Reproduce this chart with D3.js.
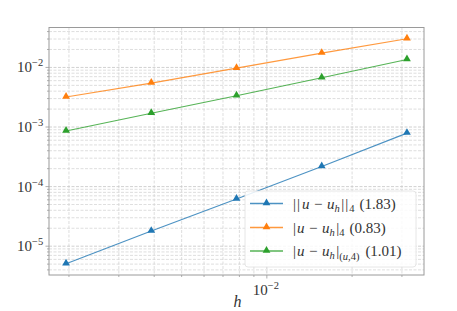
<!DOCTYPE html>
<html>
<head>
<meta charset="utf-8">
<script src="https://cdn.jsdelivr.net/npm/d3@7"></script>
<style>
  body { margin: 0; background: #fff; }
  text { font-family: "Liberation Serif", "DejaVu Serif", serif; fill: #333; }
</style>
</head>
<body>
<div id="chart"></div>
<script>
// mesh sizes h = 1/512 ... 1/32
var hValues = [1/512, 1/256, 1/128, 1/64, 1/32];
var errL4 = [5.07e-6, 1.79e-5, 6.2e-5, 2.17e-4, 7.9e-4];
var semiL4 = [3.18e-3, 5.46e-3, 9.73e-3, 1.74e-2, 3.03e-2];
var semiU4 = [8.57e-4, 1.70e-3, 3.35e-3, 6.71e-3, 1.36e-2];
var rates = ["1.83", "0.83", "1.01"];
var colors = ["#1f77b4", "#ff7f0e", "#2ca02c"];
var yTickExp = [-2, -3, -4, -5];
var xTickExp = [-2];

var width = 457, height = 311,
  margin = {left: 49, right: 33, top: 27.5, bottom: 36},
  w = width - margin.left - margin.right,
  h = height - margin.top - margin.bottom;

var svg = d3.select("#chart").append("svg")
  .attr("width", width).attr("height", height);
var chart = svg.append("g")
  .attr("transform", "translate(" + margin.left + "," + margin.top + ")");

var series = [errL4, semiL4, semiU4];

// matplotlib-like 5% padding in log space
function padLog(ext) {
  var a = Math.log10(ext[0]), b = Math.log10(ext[1]), p = (b - a) * 0.05;
  return [Math.pow(10, a - p), Math.pow(10, b + p)];
}
var x = d3.scaleLog().domain(padLog(d3.extent(hValues))).range([0, w]);
var allY = d3.merge(series);
var y = d3.scaleLog().domain(padLog(d3.extent(allY))).range([h, 0]);

function logTicks(scale) {
  var d = scale.domain(), out = [];
  for (var e = Math.floor(Math.log10(d[0])); e <= Math.ceil(Math.log10(d[1])); e++) {
    for (var m = 1; m <= 9; m++) {
      var v = m * Math.pow(10, e);
      if (v >= d[0] && v <= d[1]) out.push({v: v, major: m === 1});
    }
  }
  return out;
}
var xt = logTicks(x), yt = logTicks(y);

// grid
chart.selectAll(".gx").data(xt).enter().append("line")
  .attr("x1", function (d) { return x(d.v); }).attr("x2", function (d) { return x(d.v); })
  .attr("y1", 0).attr("y2", h)
  .attr("stroke", function (d) { return d.major ? "#c4c4c4" : "#d6d6d6"; })
  .attr("stroke-width", 0.8).attr("stroke-dasharray", "3,1.5");
chart.selectAll(".gy").data(yt).enter().append("line")
  .attr("y1", function (d) { return y(d.v); }).attr("y2", function (d) { return y(d.v); })
  .attr("x1", 0).attr("x2", w)
  .attr("stroke", function (d) { return d.major ? "#c4c4c4" : "#d6d6d6"; })
  .attr("stroke-width", 0.8).attr("stroke-dasharray", "3,1.5");

// frame
chart.append("rect").attr("width", w).attr("height", h)
  .attr("fill", "none").attr("stroke", "#9a9a9a").attr("stroke-width", 1);

// ticks
chart.selectAll(".tx").data(xt).enter().append("line")
  .attr("x1", function (d) { return x(d.v); }).attr("x2", function (d) { return x(d.v); })
  .attr("y1", h).attr("y2", function (d) { return h + (d.major ? 3.5 : 2); })
  .attr("stroke", "#9a9a9a").attr("stroke-width", 0.8);
chart.selectAll(".ty").data(yt).enter().append("line")
  .attr("y1", function (d) { return y(d.v); }).attr("y2", function (d) { return y(d.v); })
  .attr("x1", 0).attr("x2", function (d) { return d.major ? -3.5 : -2; })
  .attr("stroke", "#9a9a9a").attr("stroke-width", 0.8);

// tick labels
function powLabel(sel, e) {
  sel.append("tspan").text("10");
  sel.append("tspan").attr("dy", -6).attr("font-size", 10.5).text("\u2212" + Math.abs(e));
}
yTickExp.forEach(function (e) {
  var t = chart.append("text").attr("x", -32).attr("y", y(Math.pow(10, e)) + 5)
    .attr("font-size", 15);
  powLabel(t, e);
});
xTickExp.forEach(function (e) {
  var t = chart.append("text").attr("x", x(Math.pow(10, e)) - 14).attr("y", h + 20)
    .attr("font-size", 15);
  powLabel(t, e);
});
chart.append("text").attr("x", w / 2 - 3).attr("y", h + 32)
  .attr("font-size", 16).attr("font-style", "italic").text("h");

// lines and markers
var line = d3.line()
  .x(function (d, i) { return x(hValues[i]); })
  .y(function (d) { return y(d); });
var tri = d3.symbol().type(d3.symbolTriangle).size(26);

series.forEach(function (s, k) {
  chart.append("path").datum(s).attr("d", line)
    .attr("fill", "none").attr("stroke", colors[k]).attr("stroke-width", 1.1)
    .attr("stroke-opacity", 0.8);
  chart.selectAll(".m" + k).data(s).enter().append("path")
    .attr("d", tri)
    .attr("transform", function (d, i) { return "translate(" + x(hValues[i]) + "," + (y(d) - 0.5) + ")"; })
    .attr("fill", colors[k]);
});

// legend
var lg = svg.append("g").attr("transform", "translate(245,191)");
lg.append("rect").attr("width", 171).attr("height", 76).attr("rx", 3)
  .attr("fill", "#fff").attr("fill-opacity", 0.85)
  .attr("stroke", "#e0e0e0").attr("stroke-width", 0.8);

var rows = [12.5, 36.5, 60];
rows.forEach(function (ry, k) {
  lg.append("line").attr("x1", 5).attr("x2", 38).attr("y1", ry).attr("y2", ry)
    .attr("stroke", colors[k]).attr("stroke-width", 1.3).attr("stroke-opacity", 0.8);
  lg.append("path").attr("d", tri).attr("transform", "translate(21.5," + (ry - 0.5) + ")")
    .attr("fill", colors[k]);
  var t = lg.append("text").attr("x", 48).attr("y", ry + 5).attr("font-size", 15);
  var bar = k === 0 ? "||" : "|";
  t.append("tspan").attr("letter-spacing", k === 0 ? 1 : 0).text(bar);
  t.append("tspan").attr("dx", 1).attr("font-style", "italic").text("u");
  t.append("tspan").attr("dx", 4.5).text("\u2212");
  t.append("tspan").attr("dx", 4.5).attr("font-style", "italic").text("u");
  t.append("tspan").attr("font-style", "italic").attr("font-size", 10.5).attr("dy", 3).text("h");
  t.append("tspan").attr("dx", 1.5).attr("dy", -3).attr("letter-spacing", k === 0 ? 1 : 0).text(bar);
  if (k === 2) {
    t.append("tspan").attr("font-size", 10.5).attr("dy", 4).text("(");
    t.append("tspan").attr("font-size", 10.5).attr("font-style", "italic").text("u");
    t.append("tspan").attr("font-size", 10.5).text(",4)");
    t.append("tspan").attr("dx", 6).attr("dy", -4).text("(" + rates[k] + ")");
  } else {
    t.append("tspan").attr("font-size", 10.5).attr("dy", 3).text("4");
    t.append("tspan").attr("dx", 5).attr("dy", -3).text("(" + rates[k] + ")");
  }
});
</script>
</body>
</html>
